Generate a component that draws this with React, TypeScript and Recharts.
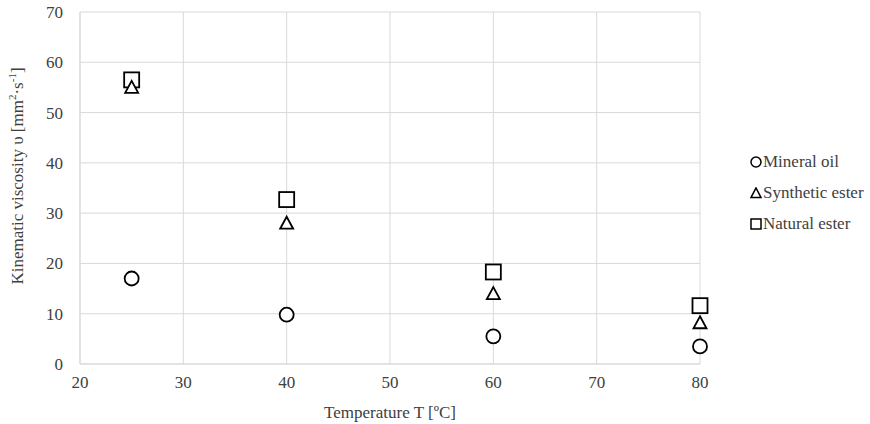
import { ScatterChart, Scatter, XAxis, YAxis, CartesianGrid, Label } from 'recharts';

const temps = [25, 40, 60, 80];
const mineralOil = [17, 9.8, 5.5, 3.5];
const syntheticEster = [55, 28, 14, 8.2];
const naturalEster = [56.5, 32.7, 18.3, 11.6];
const xTicks = [20, 30, 40, 50, 60, 70, 80];
const yTicks = [0, 10, 20, 30, 40, 50, 60, 70];

const toPoints = (vals: number[]) => temps.map((t, i) => ({ t, v: vals[i] }));

const FONT = '"Liberation Serif", "Times New Roman", serif';
const TEXT = '#404040';

const CircleShape = (props: any) => (
  <circle cx={props.cx} cy={props.cy} r={7} fill="#fff" stroke="#000" strokeWidth={1.8} />
);

const SquareShape = (props: any) => (
  <rect x={props.cx - 7.5} y={props.cy - 7.5} width={15} height={15} fill="#fff" stroke="#000" strokeWidth={1.8} />
);

const TriangleShape = (props: any) => {
  const { cx, cy } = props;
  return (
    <path
      d={`M${cx},${cy - 6.5} L${cx + 6.5},${cy + 5.5} L${cx - 6.5},${cy + 5.5} Z`}
      fill="#fff"
      stroke="#000"
      strokeWidth={1.8}
    />
  );
};

const legendItems = [
  { name: 'Mineral oil', icon: 'circle' },
  { name: 'Synthetic ester', icon: 'triangle' },
  { name: 'Natural ester', icon: 'square' },
];

const LegendIcon = ({ icon }: { icon: string }) => (
  <svg width={12} height={12} style={{ marginRight: 1 }}>
    {icon === 'circle' && <circle cx={6} cy={6} r={5} fill="none" stroke="#000" strokeWidth={1.5} />}
    {icon === 'triangle' && <path d="M6,1 L11,10.5 L1,10.5 Z" fill="none" stroke="#000" strokeWidth={1.6} />}
    {icon === 'square' && <rect x={1} y={1} width={10} height={10} fill="none" stroke="#000" strokeWidth={1.5} />}
  </svg>
);

const YLabel = () => (
  <text
    x={0}
    y={0}
    transform="translate(23, 176) rotate(-90)"
    textAnchor="middle"
    fill={TEXT}
    fontFamily={FONT}
    fontSize={17}
  >
    Kinematic viscosity υ [mm
    <tspan dy={-7} fontSize={11}>2</tspan>
    <tspan dy={7}>·s</tspan>
    <tspan dy={-7} fontSize={11}>-1</tspan>
    <tspan dy={7}>]</tspan>
  </text>
);

const App = () => {
  return (
    <div style={{ width: 870, height: 424, position: 'relative' }}>
      <style>{`body{margin:0}`}</style>
      <ScatterChart width={870} height={424} margin={{ top: 12, right: 170, left: 0, bottom: 0 }}>
        <CartesianGrid stroke="#d9d9d9" strokeWidth={1} horizontal vertical />
        <XAxis
          type="number"
          dataKey="t"
          domain={[20, 80]}
          ticks={xTicks}
          height={60}
          tickSize={0}
          tickMargin={12}
          axisLine={{ stroke: '#d9d9d9' }}
          tick={{ fill: TEXT, fontFamily: FONT, fontSize: 17 }}
        >
          <Label
            value="Temperature T [ºC]"
            position="insideBottom"
            offset={6}
            fill={TEXT}
            fontFamily={FONT}
            fontSize={17}
          />
        </XAxis>
        <YAxis
          type="number"
          dataKey="v"
          domain={[0, 70]}
          ticks={yTicks}
          width={80}
          tickSize={0}
          tickMargin={17}
          axisLine={{ stroke: '#d9d9d9' }}
          tick={{ fill: TEXT, fontFamily: FONT, fontSize: 17 }}
        >
          <Label content={YLabel} />
        </YAxis>
        <Scatter name="Natural ester" data={toPoints(naturalEster)} shape={SquareShape} isAnimationActive={false} />
        <Scatter name="Synthetic ester" data={toPoints(syntheticEster)} shape={TriangleShape} isAnimationActive={false} />
        <Scatter name="Mineral oil" data={toPoints(mineralOil)} shape={CircleShape} isAnimationActive={false} />
      </ScatterChart>
      <div
        style={{
          position: 'absolute',
          left: 750,
          top: 146,
          fontFamily: FONT,
          fontSize: 17,
          color: TEXT,
          whiteSpace: 'nowrap',
        }}
      >
        {legendItems.map((item) => (
          <div key={item.name} style={{ display: 'flex', alignItems: 'center', height: 31 }}>
            <LegendIcon icon={item.icon} />
            <span>{item.name}</span>
          </div>
        ))}
      </div>
    </div>
  );
};

export default App;
